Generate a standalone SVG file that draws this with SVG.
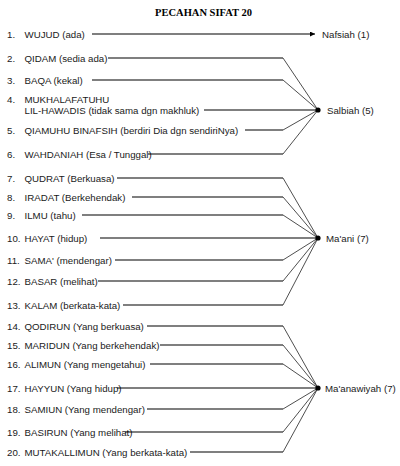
<svg xmlns="http://www.w3.org/2000/svg" width="400" height="466" viewBox="0 0 400 466">
<style>
.t{font-family:"Liberation Sans",Arial,sans-serif;font-size:9.7px;fill:#1a1a1a}
.title{font-family:"Liberation Serif","Times New Roman",serif;font-size:10.5px;font-weight:bold;fill:#000}
.h{stroke:#000;stroke-width:1.1;fill:none}
.d{stroke:#222;stroke-width:0.8;fill:none}
</style>
<defs>
<marker id="ah" viewBox="0 0 10 10" refX="10" refY="5" markerWidth="6" markerHeight="5" markerUnits="userSpaceOnUse" orient="auto">
<path d="M0,0 L10,5 L0,10 z" fill="#000"/>
</marker>
</defs>
<rect width="400" height="466" fill="#fff"/>
<text class="title" x="203.5" y="15.5" text-anchor="middle">PECAHAN SIFAT 20</text>

<g id="items" class="t">
<text x="7" y="37.5">1.</text><text x="24.5" y="37.5">WUJUD (ada)</text>
<text x="7" y="61.5">2.</text><text x="24.5" y="61.5">QIDAM (sedia ada)</text>
<text x="7" y="83.5">3.</text><text x="24.5" y="83.5">BAQA (kekal)</text>
<text x="7" y="102.5">4.</text><text x="24.5" y="102.5">MUKHALAFATUHU</text><text x="24.5" y="113.5">LIL-HAWADIS (tidak sama dgn makhluk)</text>
<text x="7" y="133.5">5.</text><text x="24.5" y="133.5">QIAMUHU BINAFSIH (berdiri Dia dgn sendiriNya)</text>
<text x="7" y="157.5">6.</text><text x="24.5" y="157.5">WAHDANIAH (Esa / Tunggal)</text>
<text x="7" y="181.5">7.</text><text x="24.5" y="181.5">QUDRAT (Berkuasa)</text>
<text x="7" y="200.5">8.</text><text x="24.5" y="200.5">IRADAT (Berkehendak)</text>
<text x="7" y="218.5">9.</text><text x="24.5" y="218.5">ILMU (tahu)</text>
<text x="7" y="241.5">10.</text><text x="24.5" y="241.5">HAYAT (hidup)</text>
<text x="7" y="263.5">11.</text><text x="24.5" y="263.5">SAMA' (mendengar)</text>
<text x="7" y="284.5">12.</text><text x="24.5" y="284.5">BASAR (melihat)</text>
<text x="7" y="308.5">13.</text><text x="24.5" y="308.5">KALAM (berkata-kata)</text>
<text x="7" y="329.5">14.</text><text x="24.5" y="329.5">QODIRUN (Yang berkuasa)</text>
<text x="7" y="348.5">15.</text><text x="24.5" y="348.5">MARIDUN (Yang berkehendak)</text>
<text x="7" y="367.5">16.</text><text x="24.5" y="367.5">ALIMUN (Yang mengetahui)</text>
<text x="7" y="391.5">17.</text><text x="24.5" y="391.5">HAYYUN (Yang hidup)</text>
<text x="7" y="412.5">18.</text><text x="24.5" y="412.5">SAMIUN (Yang mendengar)</text>
<text x="7" y="435.5">19.</text><text x="24.5" y="435.5">BASIRUN (Yang melihat)</text>
<text x="7" y="455.5">20.</text><text x="24.5" y="455.5">MUTAKALLIMUN (Yang berkata-kata)</text>
</g>

<g id="connectors">
<line class="h" x1="92" y1="34" x2="315" y2="34" marker-end="url(#ah)"/>
<path class="h" d="M108,58H283 M92,80H283 M204,110H318 M245,130H283 M148,154H283"/>
<path class="d" d="M283,58L318,110 M283,80L318,110 M283,130L318,110 M283,154L318,110"/>
<path class="h" d="M117,178H283 M132,197H283 M82,215H283 M100,238H318 M115,260H283 M98,281H283 M123,305H283"/>
<path class="d" d="M283,178L318,238 M283,197L318,238 M283,215L318,238 M283,260L318,238 M283,281L318,238 M283,305L318,238"/>
<path class="h" d="M147,326H283 M160,345H283 M150,364H283 M117,388H318 M147,409H283 M125,432H283 M190,452H283"/>
<path class="d" d="M283,326L318,388 M283,345L318,388 M283,364L318,388 M283,409L318,388 M283,432L318,388 M283,452L318,388"/>
</g>

<g id="nafsiah"><text class="t" x="322" y="38">Nafsiah (1)</text></g>
<g id="salbiah"><circle cx="318" cy="110" r="2.6" fill="#000"/><text class="t" x="327" y="113.5">Salbiah (5)</text></g>
<g id="maani"><circle cx="318" cy="238" r="2.6" fill="#000"/><text class="t" x="326" y="241.5">Ma'ani (7)</text></g>
<g id="maanawiyah"><circle cx="318" cy="388" r="2.6" fill="#000"/><text class="t" x="325" y="391.5">Ma'anawiyah (7)</text></g>
</svg>
